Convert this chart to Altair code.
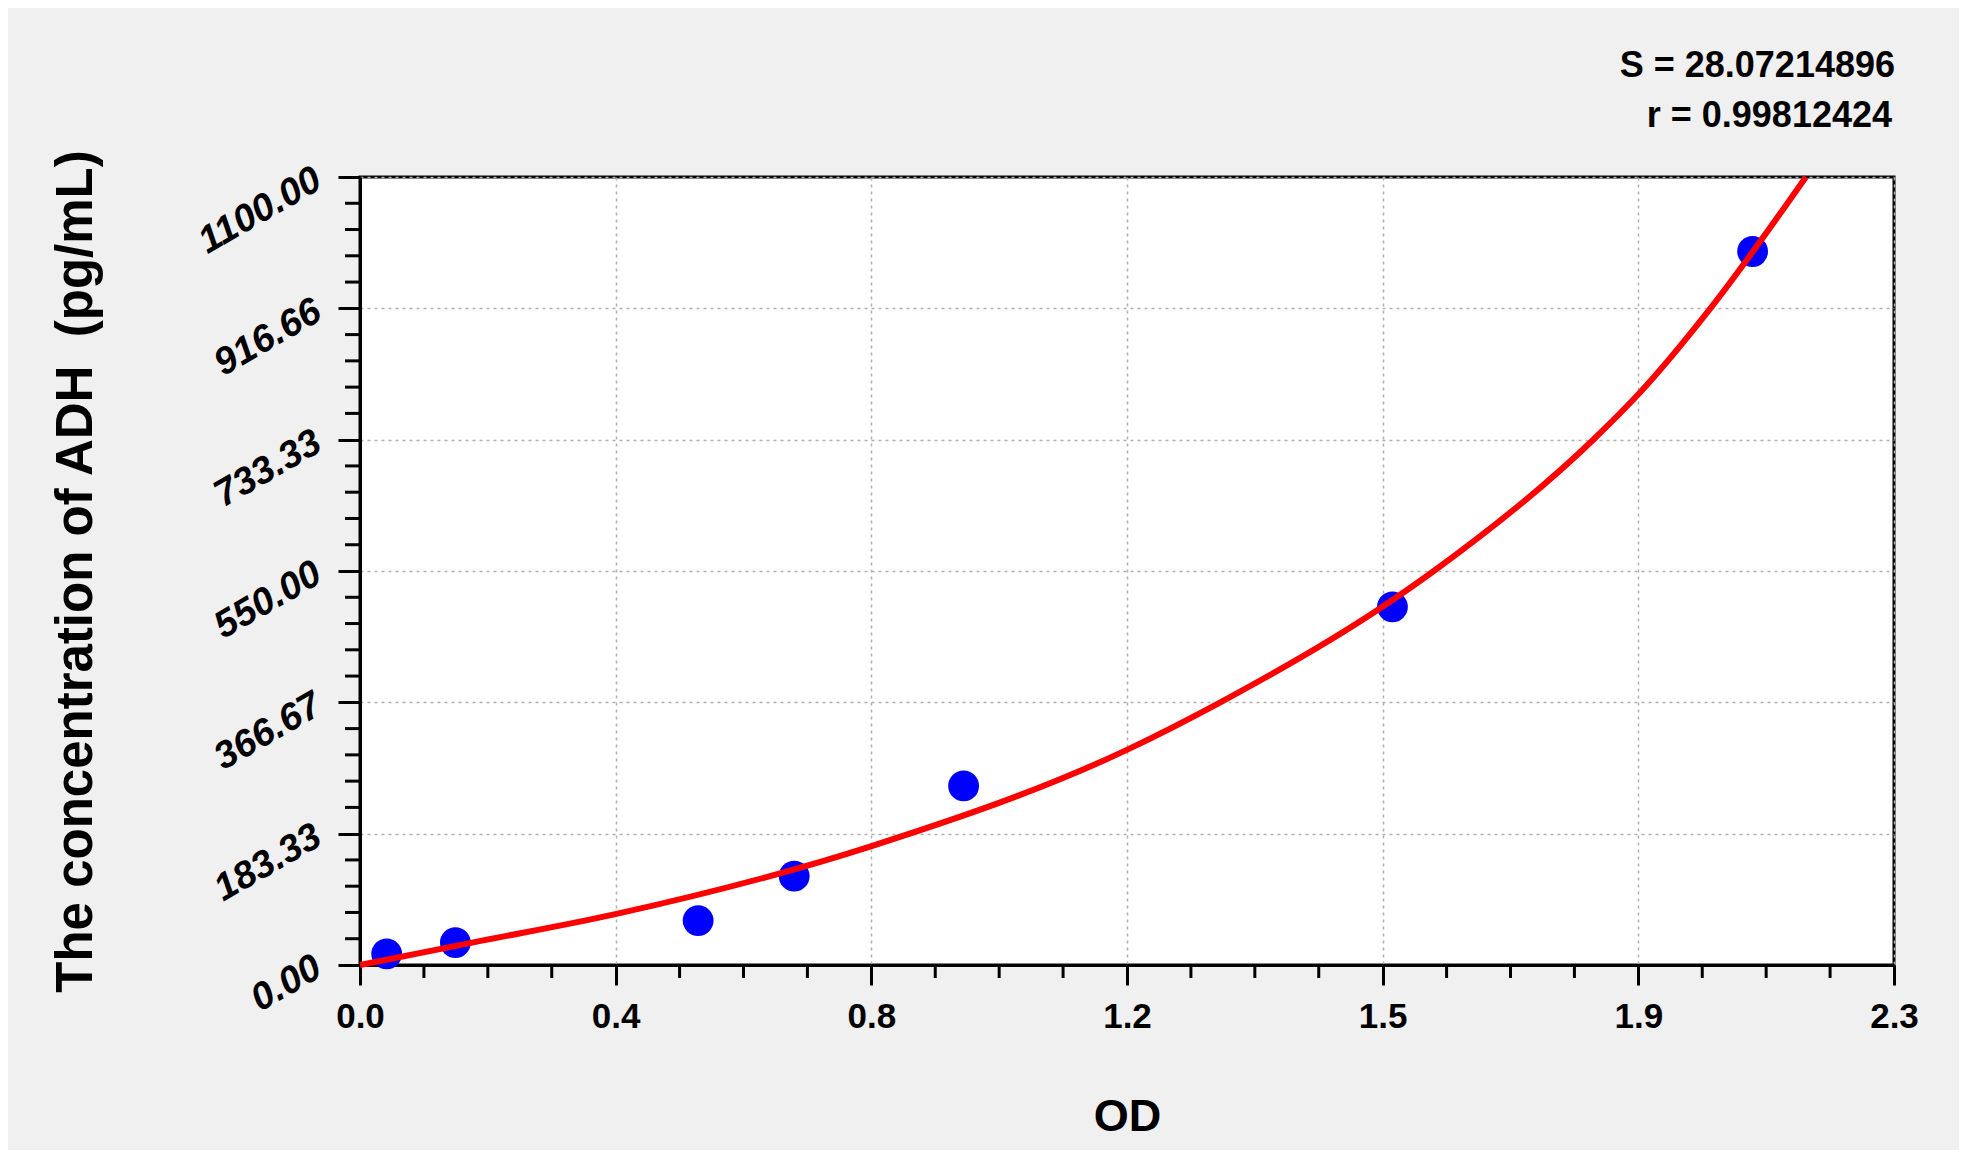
import altair as alt
import pandas as pd

# ---- data ----
od_points = [0.040, 0.143, 0.507, 0.651, 0.905, 1.548, 2.088]
conc_points = [15.6, 31.3, 62.0, 124.0, 250.0, 500.0, 996.0]

curve_od = [0.0, 0.170, 0.383, 0.767, 1.149, 1.29, 1.533, 1.61, 1.851, 1.917, 2.025, 2.168]
curve_conc = [0.0, 31.6, 71.0, 166.0, 300.0, 366.7, 500.0, 550.0, 735.0, 797.0, 917.0, 1100.0]

x_tick_values = [0.0, 2.3 / 6, 2.3 * 2 / 6, 2.3 * 3 / 6, 2.3 * 4 / 6, 2.3 * 5 / 6, 2.3]
x_tick_labels = ["0.0", "0.4", "0.8", "1.2", "1.5", "1.9", "2.3"]
y_tick_values = [0.0, 183.33, 366.67, 550.0, 733.33, 916.66, 1100.0]
y_tick_labels = ["0.00", "183.33", "366.67", "550.00", "733.33", "916.66", "1100.00"]

x_minor = [i * 2.3 / 24 for i in range(25) if i % 4]
y_minor = [i * 1100 / 30 for i in range(31) if i % 5]

stats_lines = ["S = 28.07214896", "r = 0.99812424"]
y_title = "The concentration of ADH\u00a0 (pg/mL)"
x_title = "OD"

FONT = "Liberation Sans, Arial, sans-serif"
W, H = 1534, 788

xscale = alt.Scale(domain=[0, 2.3], nice=False, zero=False)
yscale = alt.Scale(domain=[0, 1100], nice=False, zero=False)

x_lbl_expr = "[" + ",".join("'%s'" % s for s in x_tick_labels) + "][round(datum.value / 2.3 * 6)]"
y_lbl_expr = "[" + ",".join("'%s'" % s for s in y_tick_labels) + "][round(datum.value / 1100 * 6)]"

x_axis = alt.Axis(
    values=x_tick_values, labelExpr=x_lbl_expr, title=x_title,
    labelFont=FONT, labelFontSize=35, labelFontWeight="bold", labelColor="black",
    labelPadding=14, tickSize=20, tickWidth=3, tickColor="black",
    domainColor="black", domainWidth=3,
    grid=True, gridColor="#b0b0b0", gridDash=[3, 4], gridWidth=1.5,
    titleFont=FONT, titleFontSize=45, titleFontWeight="bold", titleColor="black",
    titleX=W / 2, titleY=165, titleBaseline="alphabetic", titleAlign="center",
    labelFlush=False, labelOverlap=False,
)
y_axis = alt.Axis(
    values=y_tick_values, labelExpr=y_lbl_expr, title=y_title,
    labelFont=FONT, labelFontSize=38, labelFontWeight="bold", labelFontStyle="italic",
    labelColor="black", labelAngle=330, labelAlign="right", labelBaseline="middle",
    labelPadding=20, tickSize=22, tickWidth=3, tickColor="black",
    domainColor="black", domainWidth=3,
    grid=True, gridColor="#b0b0b0", gridDash=[3, 4], gridWidth=1.5,
    titleFont=FONT, titleFontSize=51, titleFontWeight="bold", titleColor="black",
    titleAngle=270, titleX=-284, titleY=H / 2, titleAlign="center", titleBaseline="middle",
    labelFlush=False, labelOverlap=False,
)

X = alt.X("od:Q", scale=xscale, axis=x_axis)
Y = alt.Y("conc:Q", scale=yscale, axis=y_axis)

pts_df = pd.DataFrame({"od": od_points, "conc": conc_points})
curve_df = pd.DataFrame({"od": curve_od, "conc": curve_conc})

points = alt.Chart(pts_df).mark_circle(size=950, color="#0000ff", opacity=1).encode(x=X, y=Y)

curve = alt.Chart(curve_df).mark_line(color="#ff0000", strokeWidth=6, interpolate="monotone").encode(x=X, y=Y)

xminor = alt.Chart(pd.DataFrame({"od": x_minor})).mark_rule(color="black", strokeWidth=3).encode(
    x=X,
    y=alt.value(H),
    y2=alt.value(H + 13),
)
yminor = alt.Chart(pd.DataFrame({"conc": y_minor})).mark_rule(color="black", strokeWidth=3).encode(
    y=Y,
    x=alt.value(-15),
    x2=alt.value(0),
)

s_text = alt.Chart(pd.DataFrame({"t": [stats_lines[0]]})).mark_text(
    align="right", baseline="alphabetic", font=FONT, fontSize=36, fontWeight="bold", color="black"
).encode(text="t:N", x=alt.value(W + 1), y=alt.value(77 - 177))
r_text = alt.Chart(pd.DataFrame({"t": [stats_lines[1]]})).mark_text(
    align="right", baseline="alphabetic", font=FONT, fontSize=36, fontWeight="bold", color="black"
).encode(text="t:N", x=alt.value(W - 2), y=alt.value(127 - 177))

chart = alt.layer(xminor, yminor, points, curve, s_text, r_text).properties(
    width=W, height=H,
    autosize=alt.AutoSizeParams(type="none"),
    padding={"left": 352, "top": 169, "right": 65, "bottom": 185},
    background="#f0f0f0",
).configure_view(
    fill="white", stroke="black", strokeWidth=3
)

chart.save("out.html", embed_options={"renderer": "svg", "actions": False})
